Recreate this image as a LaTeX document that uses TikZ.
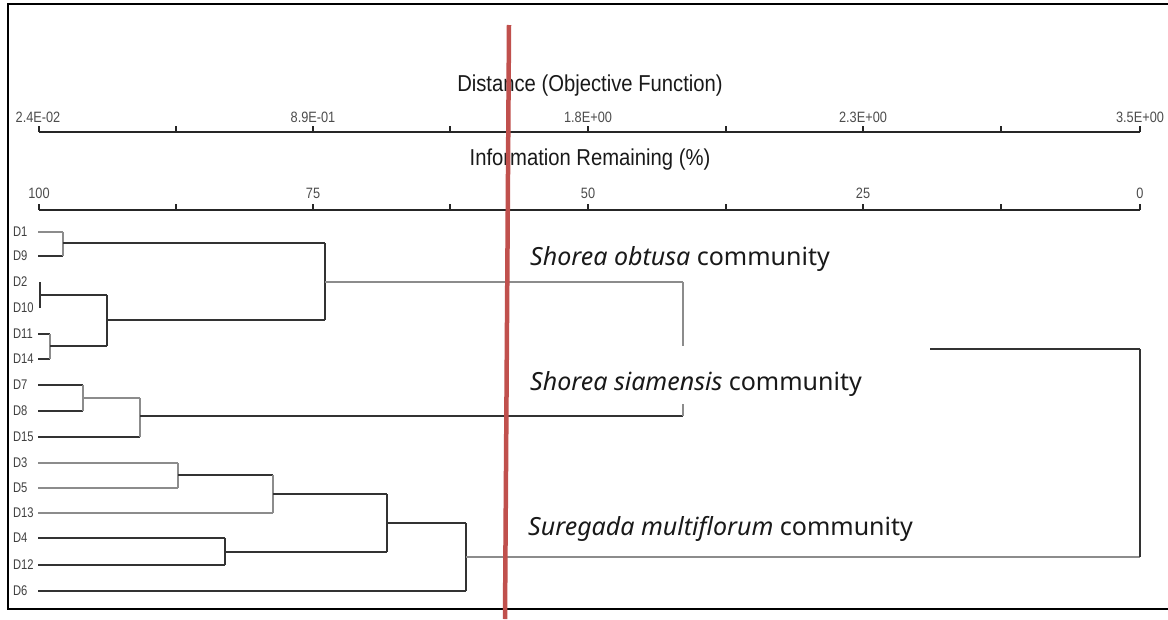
\documentclass[tikz,border=0pt]{standalone}
\usepackage{fontspec}
\setmainfont{Liberation Sans}
\newfontfamily\commfont{Noto Sans}
\definecolor{redline}{HTML}{C0504D}
\definecolor{darkln}{HTML}{333333}
\definecolor{lightln}{HTML}{8C8C8C}
\begin{document}
\begin{tikzpicture}[x=1pt,y=-1pt,
  dk/.style={draw=darkln,line width=1.5pt},
  lt/.style={draw=lightln,line width=1.2pt},
  axisln/.style={draw=black!85,line width=2pt},
  tickln/.style={draw=black!85,line width=1.4pt},
  ticklab/.style={text=black!70,font=\fontsize{15}{15}\selectfont,xscale=0.85,inner sep=0pt},
  axtitle/.style={text=black!90,font=\fontsize{23}{23}\selectfont,xscale=0.88,inner sep=0pt},
  leaflab/.style={text=black!75,font=\fontsize{14}{14}\selectfont,xscale=0.8,anchor=west,inner sep=0pt},
  comm/.style={font=\commfont\fontsize{25}{25}\selectfont,anchor=base west,inner sep=0pt,text=black!90}]
\useasboundingbox (0,0) rectangle (1168,619);
% frame
\draw[line width=2.6pt,black] (1168,4) -- (8,4) -- (8,609) -- (1168,609);
% axes titles
\node[axtitle] (distt) at (590,86) {Distance (Objective Function)};
\node[axtitle] (infot) at (590,160) {Information Remaining (\%)};
% axis lines
\draw[axisln] (39,132) -- (1140,132);
\draw[axisln] (39,210) -- (1140,210);
\foreach \x in {39,176,313,450,588,726,863,1001,1140}{
  \draw[tickln] (\x,132) -- (\x,126);
  \draw[tickln] (\x,210) -- (\x,204);
}
\node[ticklab] (t1) at (38,117) {2.4E-02};
\node[ticklab] (t2) at (313,117) {8.9E-01};
\node[ticklab] (t3) at (588,117) {1.8E+00};
\node[ticklab] (t4) at (863,117) {2.3E+00};
\node[ticklab] (t5) at (1140,117) {3.5E+00};
\node[ticklab] (p1) at (39,193) {100};
\node[ticklab] (p2) at (313,193) {75};
\node[ticklab] (p3) at (588,193) {50};
\node[ticklab] (p4) at (863,193) {25};
\node[ticklab] (p5) at (1140,193) {0};
% leaf labels
\foreach \n/\y in {D1/232,D9/256,D2/282,D10/308,D11/334,D14/359,D7/385,D8/411,D15/437,D3/463,D5/488,D13/513,D4/538,D12/565,D6/591}{
  \node[leaflab] (\n) at (13,\y) {\n};
  \coordinate (s\n) at (38,\y);
}
% join coordinates
\coordinate (a) at (63,243);
\coordinate (b) at (40,295);
\coordinate (c) at (50,346);
\coordinate (d) at (107,320);
\coordinate (e) at (325,282);
\coordinate (f) at (83,398);
\coordinate (g) at (140,416);
\coordinate (h) at (683,349);
\coordinate (i) at (178,475);
\coordinate (j) at (273,494);
\coordinate (k) at (225,552);
\coordinate (l) at (387,523);
\coordinate (m) at (466,557);
\coordinate (n) at (1140,453);
% leaves
\draw[lt] (sD1) -- (sD1 -| a);
\draw[dk] (sD9) -- (sD9 -| a);
\draw[lt] (a |- sD1) -- (a |- sD9);
\draw[dk] (b |- sD2) -- (b |- sD10);
\draw[dk] (sD11) -- (sD11 -| c);
\draw[dk] (sD14) -- (sD14 -| c);
\draw[lt] (c |- sD11) -- (c |- sD14);
\draw[dk] (b) -- (b -| d);
\draw[dk] (c) -- (c -| d);
\draw[dk] (d |- b) -- (d |- c);
\draw[dk] (a) -- (a -| e);
\draw[dk] (d) -- (d -| e);
\draw[dk] (e |- a) -- (e |- d);
\draw[dk] (sD7) -- (sD7 -| f);
\draw[dk] (sD8) -- (sD8 -| f);
\draw[lt] (f |- sD7) -- (f |- sD8);
\draw[lt] (f) -- (f -| g);
\draw[dk] (sD15) -- (sD15 -| g);
\draw[lt] (g |- f) -- (g |- sD15);
\draw[lt] (e) -- (e -| h);
\draw[dk] (g) -- (g -| h);
\draw[lt] (h |- e) -- (h |- g);
\draw[lt] (sD3) -- (sD3 -| i);
\draw[lt] (sD5) -- (sD5 -| i);
\draw[lt] (i |- sD3) -- (i |- sD5);
\draw[dk] (i) -- (i -| j);
\draw[lt] (sD13) -- (sD13 -| j);
\draw[lt] (j |- i) -- (j |- sD13);
\draw[dk] (sD4) -- (sD4 -| k);
\draw[dk] (sD12) -- (sD12 -| k);
\draw[dk] (k |- sD4) -- (k |- sD12);
\draw[dk] (j) -- (j -| l);
\draw[dk] (k) -- (k -| l);
\draw[dk] (l |- j) -- (l |- k);
\draw[dk] (l) -- (l -| m);
\draw[dk] (sD6) -- (sD6 -| m);
\draw[dk] (m |- l) -- (m |- sD6);
\draw[dk] (h) -- (h -| n);
\draw[lt] (m) -- (m -| n);
\draw[dk] (n |- h) -- (n |- m);
% white label area covering part of tree
\fill[white] (512,346) rectangle (930,404);
% community labels
\node[comm] (c1) at (530,265) {\textit{Shorea obtusa} community};
\node[comm] (c2) at (530,390) {\textit{Shorea siamensis} community};
\node[comm] (c3) at (528,535) {\textit{Suregada multiflorum} community};
% red cut line
\coordinate (rtop) at (509,25);
\coordinate (rbot) at (505,619);
\draw[redline,line width=4.5pt] (rtop) -- (rbot);
\end{tikzpicture}
\end{document}
